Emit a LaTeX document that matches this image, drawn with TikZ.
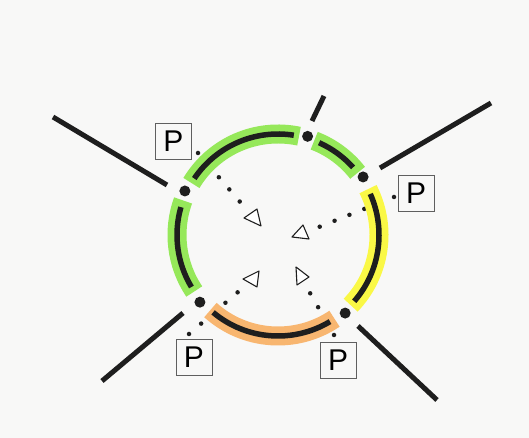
\documentclass[tikz,border=0pt]{standalone}
\usepackage{fontspec}
\setsansfont{Liberation Sans}
\usetikzlibrary{calc}
\definecolor{paper}{RGB}{248,248,247}
\definecolor{markgreen}{RGB}{150,232,90}
\definecolor{markyellow}{RGB}{250,248,70}
\definecolor{markorange}{RGB}{248,182,112}
\definecolor{inkblack}{RGB}{30,30,30}
\definecolor{boxgray}{RGB}{95,95,95}
\tikzset{
  marker/.style={line width=19pt},
  inkarc/.style={line width=5.5pt, inkblack},
  spoke/.style={line width=5pt, inkblack},
  junction/.style={circle, fill=inkblack, inner sep=0pt, minimum size=11pt},
  pbox/.style={draw=boxgray, line width=0.9pt, minimum size=36pt, inner sep=0pt,
    font=\sffamily\fontsize{30}{30}\selectfont},
  dotline/.style={line width=4.5pt, line cap=round, dash pattern=on 0pt off 16pt, inkblack},
  wedge/.style={draw=inkblack, line width=1.1pt, fill=white, line join=round}
}

\begin{document}
\begin{tikzpicture}[x=1pt, y=1pt]
  \fill[paper] (0,0) rectangle (529,438);
  \useasboundingbox (0,0) rectangle (529,438);
  \coordinate (c) at (278,203);

  \coordinate (tlA) at (198,285);
  \coordinate (tlB) at (241,235);
  \coordinate (rA) at (394,241);
  \coordinate (rB) at (319,211);
  \coordinate (blA) at (189,104);
  \coordinate (blB) at (238,146);
  \coordinate (brA) at (334,103);
  \coordinate (brB) at (310,145);
  \draw[dotline] (tlA) -- (tlB);
  \draw[dotline] (rA) -- (rB);
  \draw[dotline] (blA) -- (blB);
  \draw[dotline] (brA) -- (brB);

  \draw[marker, markgreen]  ($(c)+(149:101)$) arc[start angle=149, end angle=78, radius=101];
  \draw[marker, markgreen]  ($(c)+(69:101)$) arc[start angle=69, end angle=38, radius=101];
  \draw[marker, markgreen]  ($(c)+(160:101)$) arc[start angle=160, end angle=214, radius=101];
  \draw[marker, markorange] ($(c)+(228:101)$) arc[start angle=228, end angle=304, radius=101];
  \draw[marker, markyellow] ($(c)+(27:101)$) arc[start angle=27, end angle=-44, radius=101];

  \draw[inkarc] ($(c)+(146:101)$) arc[start angle=146, end angle=81, radius=101];
  \draw[inkarc] ($(c)+(66:101)$) arc[start angle=66, end angle=42, radius=101];
  \draw[inkarc] ($(c)+(164:101)$) arc[start angle=164, end angle=211, radius=101];
  \draw[inkarc] ($(c)+(230:101)$) arc[start angle=230, end angle=301, radius=101];
  \draw[inkarc] ($(c)+(24:101)$) arc[start angle=24, end angle=-41, radius=101];

  \node[junction] (jL)  at ($(c)+(154.7:103)$) {};
  \node[junction] (jT)  at ($(c)+(73.3:103)$) {};
  \node[junction] (jR)  at ($(c)+(34.3:103)$) {};
  \node[junction] (jBL) at ($(c)+(220.7:103)$) {};
  \node[junction] (jBR) at ($(c)+(310.7:103)$) {};

  \coordinate (sLa) at (167,253);
  \coordinate (sLb) at (53,321);
  \coordinate (sTa) at (312,317);
  \coordinate (sTb) at (324,342);
  \coordinate (sRa) at (380,270);
  \coordinate (sRb) at (491,335);
  \coordinate (sBLa) at (183,125);
  \coordinate (sBLb) at (102,57);
  \coordinate (sBRa) at (358,112);
  \coordinate (sBRb) at (437,38);
  \draw[spoke] (sLa) -- (sLb);
  \draw[spoke] (sTa) -- (sTb);
  \draw[spoke] (sRa) -- (sRb);
  \draw[spoke] (sBLa) -- (sBLb);
  \draw[spoke] (sBRa) -- (sBRb);

  \draw[wedge] (244,220) -- (257,229) -- (261,212) -- cycle;
  \draw[wedge] (292,201) -- (303,213) -- (309,199) -- cycle;
  \draw[wedge] (243,159) -- (259,167) -- (257,151) -- cycle;
  \draw[wedge] (296,171) -- (309,161) -- (297,153) -- cycle;

  \node[pbox] (pTL) at (173.5,297) {P};
  \node[pbox] (pR)  at (416,245) {P};
  \node[pbox] (pBL) at (194,81) {P};
  \node[pbox] (pBR) at (338,78) {P};
\end{tikzpicture}
\end{document}
